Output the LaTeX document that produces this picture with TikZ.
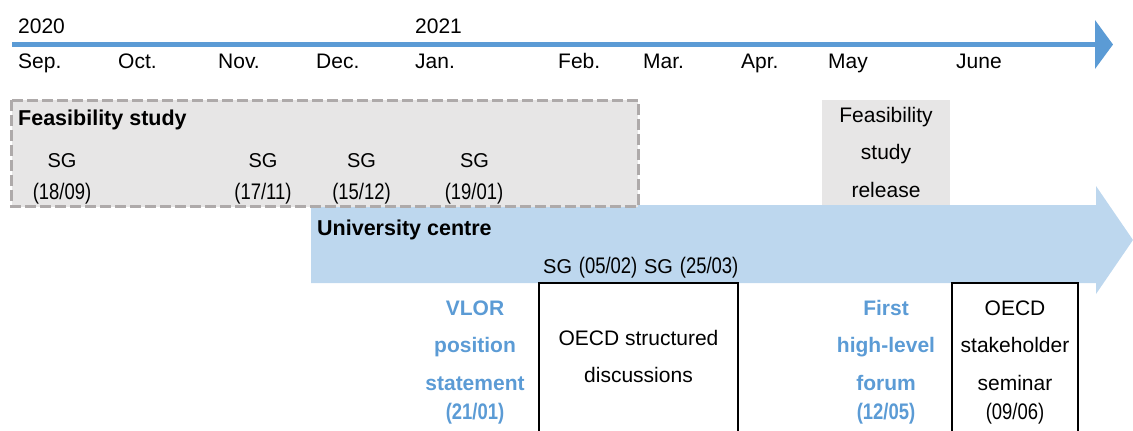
\documentclass[tikz,border=0pt]{standalone}
\usepackage{fontspec}
\setmainfont{Liberation Sans}
\newfontfamily\narrowfont[FakeStretch=0.82]{Liberation Sans}
\usetikzlibrary{arrows.meta}
\definecolor{tlblue}{HTML}{5B9BD5}
\definecolor{ucblue}{HTML}{BDD7EE}
\definecolor{grayfill}{HTML}{E7E6E6}
\definecolor{dashgray}{HTML}{AEAAAA}
\definecolor{lblblue}{HTML}{5B9BD5}
\newcommand{\datefont}{\narrowfont\fontsize{22.5}{37.5}\selectfont}
\tikzset{
  x=1pt, y=-1pt,
  tllabel/.style={anchor=base west, inner sep=0pt, font=\fontsize{21}{25}\selectfont},
  sglabel/.style={anchor=base, inner sep=0pt, font=\fontsize{20}{24}\selectfont},
  datelabel/.style={anchor=base, inner sep=0pt, font=\datefont},
  boldtitle/.style={anchor=base west, inner sep=0pt, font=\bfseries\fontsize{21.5}{25}\selectfont},
  multiline/.style={align=center, inner sep=0pt, font=\fontsize{21}{37.5}\selectfont},
  bluelabel/.style={multiline, text=lblblue, font=\bfseries\fontsize{21}{37.5}\selectfont},
  eventbox/.style={draw=black, line width=2pt},
}
\begin{document}
\begin{tikzpicture}
\useasboundingbox (0,0) rectangle (1133,431);

% timeline
\coordinate (tlstart) at (12,44.5);
\coordinate (tlend) at (1113,44.5);
\draw[tlblue, line width=5pt, -{Triangle[length=18pt,width=48pt]}] (tlstart) -- (tlend);

\node[tllabel] (y2020) at (18,33) {2020};
\node[tllabel] (y2021) at (415,33) {2021};
\node[tllabel] (msep) at (18,68.5) {Sep.};
\node[tllabel] (moct) at (118,68.5) {Oct.};
\node[tllabel] (mnov) at (218,68.5) {Nov.};
\node[tllabel] (mdec) at (316,68.5) {Dec.};
\node[tllabel] (mjan) at (415,68.5) {Jan.};
\node[tllabel] (mfeb) at (558,68.5) {Feb.};
\node[tllabel] (mmar) at (643,68.5) {Mar.};
\node[tllabel] (mapr) at (741,68.5) {Apr.};
\node[tllabel] (mmay) at (828,68.5) {May};
\node[tllabel] (mjun) at (956,68.5) {June};

% university centre arrow
\fill[ucblue] (311,205) -- (1096,205) -- (1096,186) -- (1133,240) -- (1096,294) -- (1096,283) -- (311,283) -- cycle;

% feasibility study box
\draw[dashgray, fill=grayfill, line width=3pt, dash pattern=on 11pt off 4pt] (11.5,100) rectangle (638,206.5);
\node[boldtitle] (fstitle) at (18,125) {Feasibility study};
\node[sglabel] (sg1) at (62,167) {SG};
\node[datelabel] (d1) at (62,199) {(18/09)};
\node[sglabel] (sg2) at (263,167) {SG};
\node[datelabel] (d2) at (263,199) {(17/11)};
\node[sglabel] (sg3) at (361.5,167) {SG};
\node[datelabel] (d3) at (361.5,199) {(15/12)};
\node[sglabel] (sg4) at (474.5,167) {SG};
\node[datelabel] (d4) at (474,199) {(19/01)};

% feasibility study release
\fill[grayfill] (822,100) rectangle (950,205);
\node[multiline] (release) at (886,152.3) {Feasibility\\study\\release};

% university centre content
\node[boldtitle] (uctitle) at (317,235) {University centre};
\node[anchor=base west, inner sep=0pt, font=\fontsize{20}{24}\selectfont] (sgpair) at (543,273)
  {SG\hspace{6.8pt}{\datefont(05/02)}\hspace{6.8pt}SG\hspace{6.8pt}{\datefont(25/03)}};

% event boxes
\draw[eventbox] (539,283) rectangle (738,440);
\node[multiline] (oecdsd) at (638.5,356.5) {OECD structured\\discussions};
\draw[eventbox] (952,283) rectangle (1078,440);
\node[multiline] (oecdss) at (1015,362) {OECD\\stakeholder\\seminar\\[-8.5pt]{\datefont (09/06)}};

% blue labels
\node[bluelabel] (vlor) at (475,362) {VLOR\\position\\statement\\[-8.5pt]{\datefont (21/01)}};
\node[bluelabel] (forum) at (886,362) {First\\high-level\\forum\\[-8.5pt]{\datefont (12/05)}};
\end{tikzpicture}
\end{document}
